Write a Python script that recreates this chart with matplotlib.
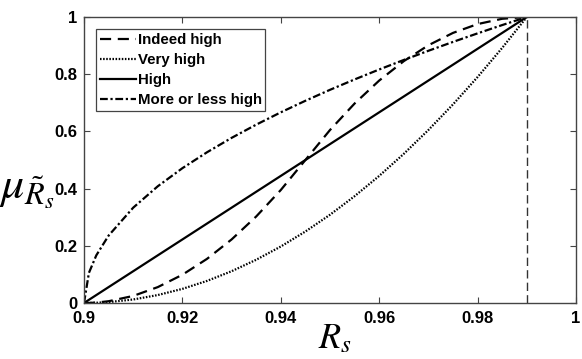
import matplotlib
matplotlib.use("Agg")
import matplotlib.pyplot as plt

# data (membership values)
rs = [0.900, 0.901, 0.9025, 0.905, 0.910, 0.915, 0.920, 0.925, 0.930, 0.935, 0.940,
      0.945, 0.950, 0.955, 0.960, 0.965, 0.970, 0.975, 0.980, 0.985, 0.990]
indeed_high = [0.0, 0.0002, 0.0015, 0.0062, 0.0247, 0.0556, 0.0988, 0.1543, 0.2222, 0.3025, 0.3951,
               0.5, 0.6049, 0.6975, 0.7778, 0.8457, 0.9012, 0.9444, 0.9753, 0.9938, 1.0]
very_high = [0.0, 0.0001, 0.0008, 0.0031, 0.0123, 0.0278, 0.0494, 0.0772, 0.1111, 0.1512, 0.1975,
             0.25, 0.3086, 0.3735, 0.4444, 0.5216, 0.6049, 0.6944, 0.7901, 0.8920, 1.0]
high = [0.0, 0.0111, 0.0278, 0.0556, 0.1111, 0.1667, 0.2222, 0.2778, 0.3333, 0.3889, 0.4444,
        0.5, 0.5556, 0.6111, 0.6667, 0.7222, 0.7778, 0.8333, 0.8889, 0.9444, 1.0]
more_or_less = [0.0, 0.1054, 0.1667, 0.2357, 0.3333, 0.4082, 0.4714, 0.5270, 0.5774, 0.6236, 0.6667,
                0.7071, 0.7454, 0.7817, 0.8165, 0.8498, 0.8819, 0.9129, 0.9428, 0.9718, 1.0]
threshold_x = [0.99, 0.99]
threshold_y = [0.0, 1.0]
xticks = [0.9, 0.92, 0.94, 0.96, 0.98, 1.0]
xticklabels = ["0.9", "0.92", "0.94", "0.96", "0.98", "1"]
yticks = [0, 0.2, 0.4, 0.6, 0.8, 1.0]
yticklabels = ["0", "0.2", "0.4", "0.6", "0.8", "1"]

plt.rcParams['font.family'] = ['Liberation Sans', 'DejaVu Sans']
plt.rcParams['mathtext.fontset'] = 'stix'

fig = plt.figure(figsize=(5.82, 3.59), dpi=100)
ax = fig.add_axes([84/582, 1 - 303/359, (576-84)/582, (303-17)/359])

ax.plot(rs, indeed_high, color='black', linestyle=(0, (5, 3)), lw=1.6, label='Indeed high')
ax.plot(rs, very_high, color='black', linestyle=(0, (0.7, 0.7)), lw=1.6, label='Very high')
ax.plot(rs, high, color='black', linestyle='-', lw=1.6, label='High')
ax.plot(rs, more_or_less, color='black', linestyle=(0, (3.5, 1.2, 1, 1.2)), lw=1.6, label='More or less high')
ax.plot(threshold_x, threshold_y, color='#333333', linestyle=(0, (6, 3)), lw=1.0)

ax.set_xlim(0.9, 1.0)
ax.set_ylim(0, 1)
ax.set_xticks(xticks)
ax.set_xticklabels(xticklabels, fontweight='bold', fontsize=12)
ax.set_yticks(yticks)
ax.set_yticklabels(yticklabels, fontweight='bold', fontsize=12)
ax.tick_params(direction='in', top=True, right=True, length=4, width=0.8, colors='#444444',
               labelcolor='black')
ax.tick_params(axis='x', pad=6)
ax.tick_params(axis='y', pad=5)
for s in ax.spines.values():
    s.set_color('#444444')
    s.set_linewidth(1.0)

ax.set_xlabel(r'$R_s$', fontsize=26)
ax.xaxis.set_label_coords(0.51, -0.065, transform=ax.transAxes)
ax.xaxis.label.set_va('top')
ax.set_ylabel(r'$\mu_{\tilde{R}_s}$', fontsize=33, rotation=0, va='center', ha='center')
ax.yaxis.set_label_coords(-0.115, 0.40)

leg = ax.legend(loc='upper left', bbox_to_anchor=(0.0244, 0.958), prop={'weight': 'bold', 'size': 10.8},
                handlelength=2.4, handletextpad=0.12, labelspacing=0.4, borderpad=0.25,
                borderaxespad=0, fancybox=False, edgecolor='#444444', framealpha=1)
leg.get_frame().set_linewidth(0.9)

fig.savefig('out.png', dpi=100)
